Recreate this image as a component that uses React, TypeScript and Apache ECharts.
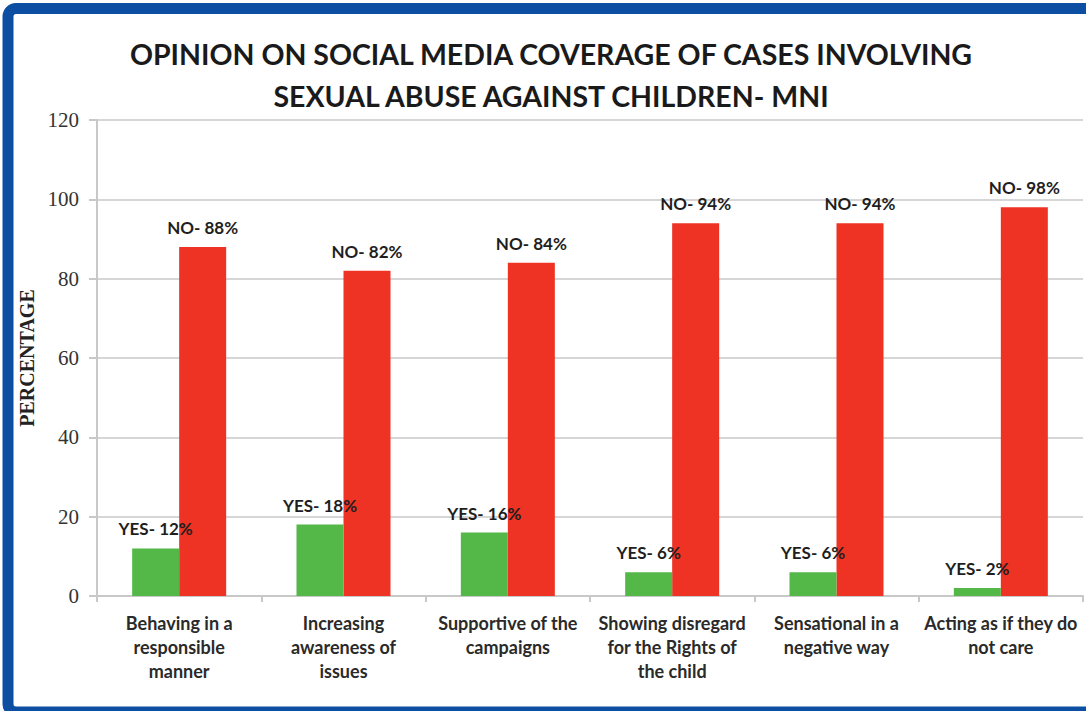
import React, { useEffect, useRef } from "react";
import * as echarts from "echarts";

const categories = [
  "Behaving in a\nresponsible\nmanner",
  "Increasing\nawareness of\nissues",
  "Supportive of the\ncampaigns",
  "Showing disregard\nfor the Rights of\nthe child",
  "Sensational in a\nnegative way",
  "Acting as if they do\nnot care",
];
const yesValues = [12, 18, 16, 6, 6, 2];
const noValues = [88, 82, 84, 94, 94, 98];
const titleLines = [
  "OPINION ON SOCIAL MEDIA COVERAGE OF CASES INVOLVING",
  "SEXUAL ABUSE AGAINST CHILDREN- MNI",
];

export default function App() {
  const ref = useRef<HTMLDivElement>(null);
  useEffect(() => {
    if (!ref.current) return;
    const chart = echarts.init(ref.current, null, { renderer: "svg" });
    const labelStyle = {
      show: true,
      position: "top" as const,
      distance: 11,
      fontFamily: "Lato",
      fontWeight: "bold" as const,
      fontSize: 17,
      color: "#1e1e1e",
    };
    chart.setOption({
      animation: false,
      backgroundColor: "#ffffff",
      title: {
        text: titleLines.join("\n"),
        left: 551,
        top: 33,
        padding: 0,
        textAlign: "center",
        textStyle: {
          fontFamily: "Lato",
          fontWeight: "bold",
          fontSize: 28.5,
          lineHeight: 42,
          color: "#1a1a1a",
        },
      },
      graphic: [
        {
          type: "rect",
          shape: { x: 8, y: 8.5, width: 1100, height: 703.5, r: 8 },
          style: { fill: "none", stroke: "#0b4ea2", lineWidth: 11 },
          z: 100,
        },
      ],
      grid: { left: 97, right: 3, top: 120, bottom: 115, containLabel: false },
      xAxis: {
        type: "category",
        data: categories,
        axisLine: { lineStyle: { color: "#c8c8c8", width: 2 } },
        axisTick: { show: true, length: 6, lineStyle: { color: "#c8c8c8", width: 2 } },
        axisLabel: {
          interval: 0,
          margin: 15,
          fontFamily: "Lato",
          fontWeight: "bold",
          fontSize: 18,
          lineHeight: 24,
          color: "#2a2a2a",
        },
      },
      yAxis: {
        type: "value",
        min: 0,
        max: 120,
        interval: 20,
        name: "PERCENTAGE",
        nameLocation: "middle",
        nameGap: 59,
        nameTextStyle: {
          fontFamily: "Times New Roman, Liberation Serif, serif",
          fontWeight: "bold",
          fontSize: 20,
          color: "#222",
        },
        axisLine: { show: true, lineStyle: { color: "#c8c8c8", width: 2 } },
        axisTick: { show: true, length: 8, lineStyle: { color: "#c8c8c8", width: 2 } },
        axisLabel: {
          margin: 18,
          fontFamily: "Times New Roman, Liberation Serif, serif",
          fontSize: 21,
          color: "#333",
        },
        splitLine: { lineStyle: { color: "#d6d6d6", width: 2 } },
      },
      series: [
        {
          name: "YES",
          type: "bar",
          data: yesValues,
          barWidth: 47,
          barGap: "0%",
          itemStyle: { color: "#53b848" },
          label: { ...labelStyle, formatter: (p: any) => `YES- ${p.value}%` },
          z: 4,
        },
        {
          name: "NO",
          type: "bar",
          data: noValues,
          barWidth: 47,
          barGap: "0%",
          itemStyle: { color: "#ee3224" },
          label: { ...labelStyle, formatter: (p: any) => `NO- ${p.value}%` },
          z: 3,
        },
      ],
    });
    return () => chart.dispose();
  }, []);
  return (
    <div
      ref={ref}
      style={{ position: "fixed", left: 0, top: 0, width: 1086, height: 711 }}
    />
  );
}
